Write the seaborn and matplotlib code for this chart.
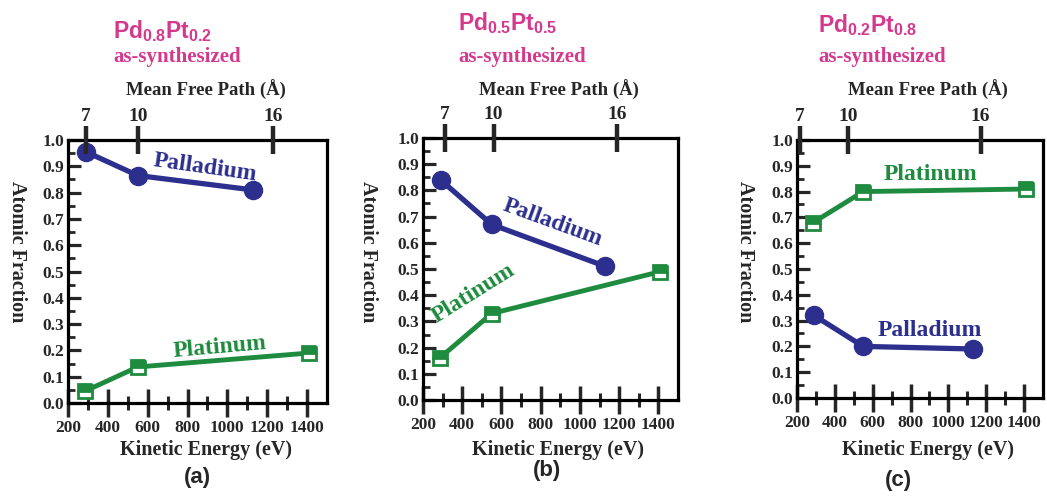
import matplotlib
matplotlib.use("Agg")
import matplotlib.pyplot as plt
import seaborn as sns
import numpy as np
from matplotlib.ticker import MultipleLocator, FixedLocator, FormatStrFormatter

sns.set_theme(style="white")
plt.rcParams['font.family'] = ['Liberation Serif', 'DejaVu Serif']
plt.rcParams['font.weight'] = 'bold'
plt.rcParams['mathtext.fontset'] = 'custom'
plt.rcParams['mathtext.rm'] = 'Liberation Sans:bold'
plt.rcParams['mathtext.it'] = 'Liberation Sans:bold'
plt.rcParams['mathtext.bf'] = 'Liberation Sans:bold'

# ---------------- data ----------------
energy_pd = [290, 550, 1130]
energy_pt = [285, 550, 1410]
pd_a = [0.955, 0.865, 0.81]
pt_a = [0.045, 0.137, 0.19]
pd_b = [0.84, 0.67, 0.51]
pt_b = [0.16, 0.33, 0.49]
pd_c = [0.32, 0.20, 0.19]
pt_c = [0.68, 0.80, 0.81]
mfp_labels = ['7', '10', '16']
mfp_pos_a = [290, 550, 1230]
mfp_pos_b = [310, 560, 1190]
mfp_pos_c = [215, 470, 1170]
compositions = [('0.8', '0.2'), ('0.5', '0.5'), ('0.2', '0.8')]
panel_letters = ['(a)', '(b)', '(c)']

BLUE = '#2c2f8e'
GREEN = '#1f8b3f'
MAGENTA = '#d4398e'

W, H = 1047, 498
fig = plt.figure(figsize=(W / 100, H / 100), dpi=100)

def fx(px):
    return px / W

def fy(py):
    return 1 - py / H

# axes pixel boxes: left, right, top, bottom
boxes = [(68, 327, 140, 403), (423, 678, 138, 400), (797, 1043, 140, 398)]
pd_vals = [pd_a, pd_b, pd_c]
pt_vals = [pt_a, pt_b, pt_c]
mfp_pos = [mfp_pos_a, mfp_pos_b, mfp_pos_c]

for i, (l, r, t, b) in enumerate(boxes):
    ax = fig.add_axes([fx(l), fy(b), (r - l) / W, (b - t) / H])
    sns.lineplot(x=energy_pd, y=pd_vals[i], ax=ax, color=BLUE, lw=3.8,
                 marker='o', markersize=13, markeredgecolor=BLUE,
                 markerfacecolor=BLUE, markeredgewidth=1, sort=False,
                 legend=False, zorder=3)
    sns.lineplot(x=energy_pt, y=pt_vals[i], ax=ax, color=GREEN, lw=3.5,
                 marker='s', markersize=10, markeredgecolor=GREEN,
                 markerfacecolor=GREEN, fillstyle='top',
                 markerfacecoloralt='white', markeredgewidth=2, sort=False,
                 legend=False, zorder=3)
    ax.set_xlim(200, 1500)
    ax.set_ylim(0, 1.0)
    ax.set_xlabel('')
    ax.set_ylabel('')
    for s in ax.spines.values():
        s.set_linewidth(2.3)
        s.set_color('black')
        s.set_visible(True)
    ax.xaxis.set_major_locator(FixedLocator(np.arange(200, 1401, 200)))
    ax.xaxis.set_minor_locator(FixedLocator(np.arange(300, 1500, 200)))
    ax.yaxis.set_major_locator(MultipleLocator(0.1))
    ax.yaxis.set_minor_locator(MultipleLocator(0.05))
    ax.yaxis.set_major_formatter(FormatStrFormatter('%.1f'))
    ax.tick_params(axis='x', which='major', direction='inout', length=20,
                   width=2.5, labelsize=12.5, pad=2, bottom=True, top=False)
    ax.tick_params(axis='x', which='minor', direction='inout', length=10,
                   width=2.2, bottom=True, top=False)
    ax.tick_params(axis='y', which='major', direction='in', length=9,
                   width=2.3, labelsize=12.5, pad=3, left=True, right=False)
    ax.tick_params(axis='y', which='minor', direction='in', length=5,
                   width=2.0, left=True, right=False)
    for lab in ax.get_xticklabels() + ax.get_yticklabels():
        lab.set_fontweight('bold')

    top = ax.twiny()
    top.set_xlim(ax.get_xlim())
    top.xaxis.set_major_locator(FixedLocator(mfp_pos[i]))
    top.set_xticklabels(mfp_labels, fontweight='bold')
    top.tick_params(axis='x', direction='inout', length=20, width=3.2,
                    labelsize=14, pad=1)
    for s in top.spines.values():
        s.set_visible(False)
    top.grid(False)

    cx = (l + r) / 2
    fig.text(fx(cx + 8), fy(90), 'Mean Free Path (Å)', ha='center', va='center',
             fontsize=13.5, fontweight='bold', family='Liberation Serif')
    fig.text(fx(cx + 8), fy(450), 'Kinetic Energy (eV)', ha='center', va='center',
             fontsize=14.5, fontweight='bold', family='Liberation Serif')
    ylab_x = [17, 368, 745][i]
    fig.text(fx(ylab_x), fy(252), 'Atomic Fraction', ha='center',
             va='center', rotation=-90, fontsize=14.5, fontweight='bold',
             family='Liberation Serif')
    tx = [113, 458, 818][i]
    pdv, ptv = compositions[i]
    fig.text(fx(tx), fy([31, 23, 25][i]),
             rf'$\mathrm{{Pd}}_{{{pdv}}}\mathrm{{Pt}}_{{{ptv}}}$',
             ha='left', va='center', fontsize=16.5,
             color=MAGENTA)
    fig.text(fx(tx), fy(57), 'as-synthesized', ha='left', va='center',
             fontsize=15, fontweight='bold', color=MAGENTA,
             family='Liberation Serif')
    fig.text(fx([197, 547, 898][i]), fy([477, 470, 480][i]),
             panel_letters[i], ha='center', va='center', fontsize=16,
             fontweight='bold', family='Liberation Sans')

# series labels (figure coordinates in pixels)
labels = [
    ('Palladium', 205, 168, -8, BLUE),
    ('Platinum', 220, 347, 5, GREEN),
    ('Palladium', 553, 223, -20, BLUE),
    ('Platinum', 473, 293, 32, GREEN),
    ('Platinum', 930, 175, 0, GREEN),
    ('Palladium', 930, 330, 0, BLUE),
]
for txt, x, y, rot, col in labels:
    fig.text(fx(x), fy(y), txt, ha='center', va='center', rotation=rot,
             fontsize=17, fontweight='bold', color=col,
             family='Liberation Serif', rotation_mode='anchor')

fig.savefig('out.png', dpi=100)
